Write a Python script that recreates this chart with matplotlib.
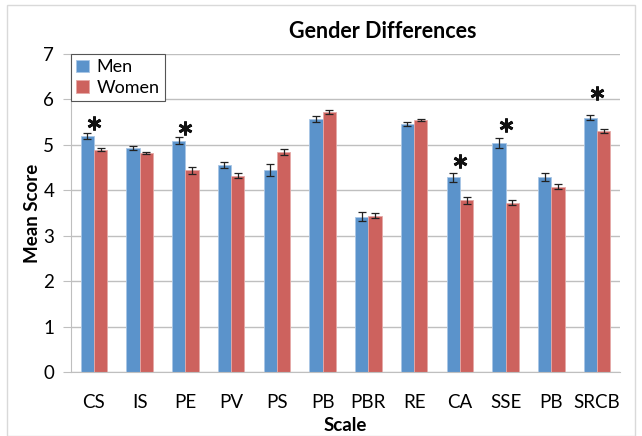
import numpy as np
import matplotlib.pyplot as plt
from matplotlib.patches import Rectangle

scales = ['CS', 'IS', 'PE', 'PV', 'PS', 'PB', 'PBR', 'RE', 'CA', 'SSE', 'PB', 'SRCB']
men = [5.20, 4.93, 5.09, 4.56, 4.44, 5.57, 3.42, 5.46, 4.29, 5.04, 4.30, 5.60]
women = [4.89, 4.82, 4.44, 4.32, 4.84, 5.72, 3.44, 5.55, 3.78, 3.73, 4.08, 5.30]
men_err = [0.07, 0.04, 0.08, 0.07, 0.13, 0.07, 0.10, 0.05, 0.10, 0.10, 0.09, 0.05]
women_err = [0.03, 0.02, 0.08, 0.05, 0.07, 0.04, 0.06, 0.03, 0.08, 0.06, 0.06, 0.04]
# significance markers: category index and height of the asterisk
star_idx = [0, 2, 8, 9, 11]
star_y = [5.49, 5.37, 4.65, 5.43, 6.14]

plt.rcParams['font.family'] = ['Lato', 'DejaVu Sans']

fig = plt.figure(figsize=(6.42, 4.36), dpi=100)
ax = fig.add_axes([71/642, 1 - 372/436, 549/642, 318/436])

x = np.arange(len(scales))
w = 0.29
blue = '#5b93cb'
red = '#cd625e'
ax.bar(x - w/2, men, w, color=blue, edgecolor='#a9c6e6', linewidth=0.6, label='Men', zorder=2)
ax.bar(x + w/2, women, w, color=red, edgecolor='#e6a9a7', linewidth=0.6, label='Women', zorder=2)
ax.errorbar(x - w/2, men, yerr=men_err, fmt='none', ecolor='#222222', elinewidth=0.9, capsize=3, capthick=0.9, zorder=3)
ax.errorbar(x + w/2, women, yerr=women_err, fmt='none', ecolor='#222222', elinewidth=0.9, capsize=3, capthick=0.9, zorder=3)

ax.plot(x[star_idx], star_y, linestyle='none', marker=(6, 2, 0), markersize=10,
        markeredgewidth=2.0, color='#111111', zorder=4)

ax.set_xlim(-0.5, len(scales) - 0.5)
ax.set_ylim(0, 7)
ax.set_yticks(range(8))
ax.set_xticks(x)
ax.set_xticklabels(scales)
ax.grid(axis='y', color='#bfbfbf', linewidth=1, zorder=0)
ax.set_axisbelow(True)
for side in ['top', 'right']:
    ax.spines[side].set_visible(False)
ax.spines['left'].set_color('#bfbfbf')
ax.spines['bottom'].set_color('#bfbfbf')
ax.tick_params(axis='y', length=6, color='#bfbfbf', labelsize=13.5, pad=6)
ax.tick_params(axis='x', length=0, labelsize=13.5, pad=16)

ax.set_xlabel('Scale', fontsize=13.5, fontweight='bold')
ax.set_ylabel('Mean Score', fontsize=13.5, fontweight='bold')
ax.xaxis.set_label_coords(0.5, (372 - 425) / 318, transform=ax.transAxes)
ax.yaxis.set_label_coords((32 - 71) / 549, 0.5, transform=ax.transAxes)
ax.xaxis.label.set_va('center')
ax.yaxis.label.set_va('center')
fig.text(383/642, 1 - 32/436, 'Gender Differences', ha='center', va='center',
         fontsize=15.5, fontweight='bold')

leg = ax.legend(loc='upper left', bbox_to_anchor=(0, 1), borderaxespad=0,
                fancybox=False, framealpha=1, edgecolor='#555555', fontsize=13,
                handlelength=0.7, handleheight=0.7, handletextpad=0.4,
                labelspacing=0.25, borderpad=0.3)
leg.get_frame().set_linewidth(0.8)

fig.patches.append(Rectangle((7/642, 0), 1 - 14/642, 1 - 5/436, transform=fig.transFigure,
                             fill=False, edgecolor='#d9d9d9', linewidth=1))

fig.savefig('out.png', dpi=100)
